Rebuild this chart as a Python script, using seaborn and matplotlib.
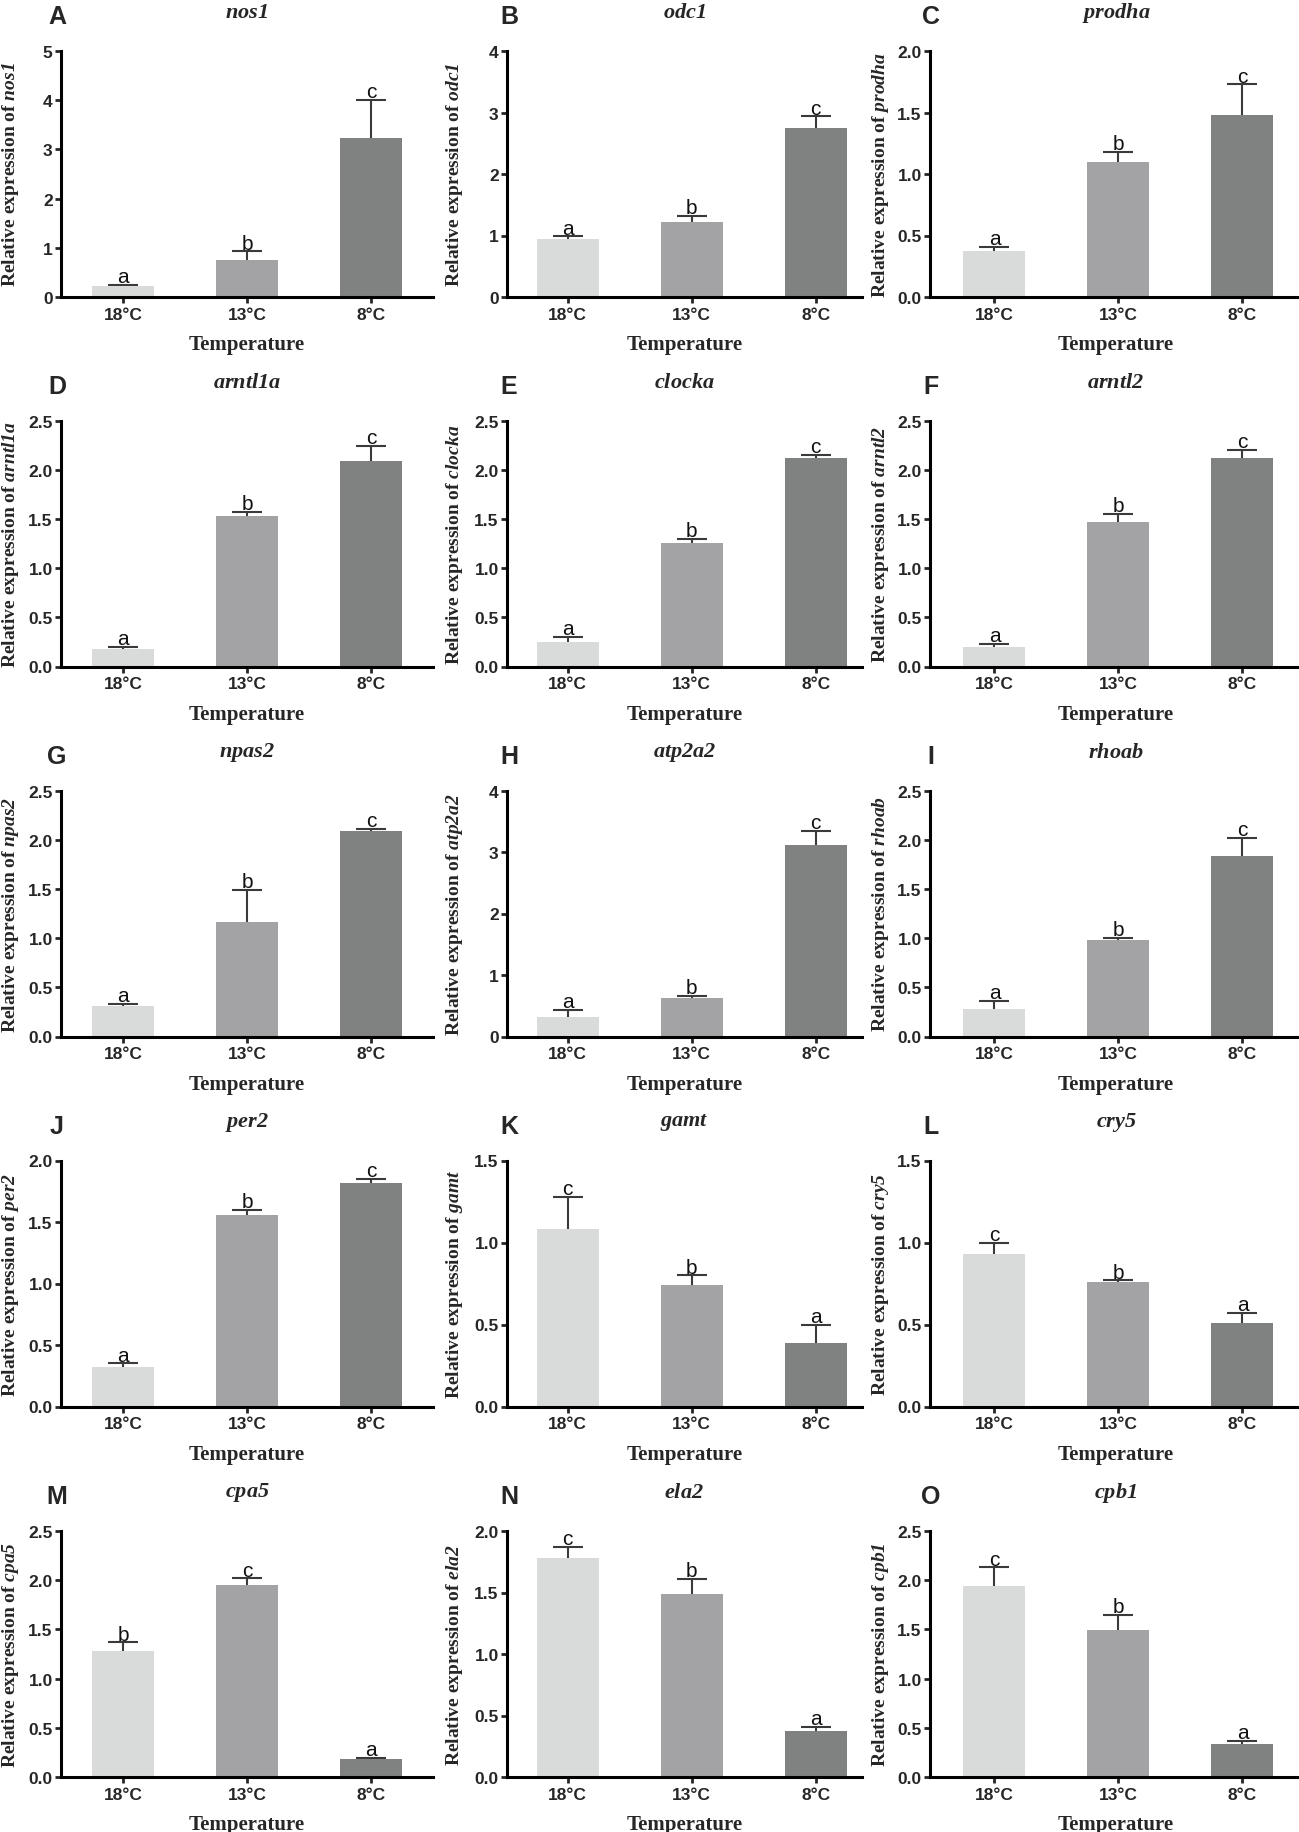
import numpy as np
import pandas as pd
import matplotlib
matplotlib.use("Agg")
import matplotlib.pyplot as plt
import seaborn as sns

# categories and panel labels
temps = ["18°C", "13°C", "8°C"]
panel_ids = list("ABCDEFGHIJKLMNO")
genes = ["nos1", "odc1", "prodha", "arntl1a", "clocka", "arntl2",
         "npas2", "atp2a2", "rhoab", "per2", "gamt", "cry5",
         "cpa5", "ela2", "cpb1"]

# mean relative expression (18, 13, 8 °C)
means = [
    [0.22, 0.76, 3.23],
    [0.94, 1.22, 2.75],
    [0.37, 1.10, 1.48],
    [0.18, 1.53, 2.09],
    [0.25, 1.26, 2.12],
    [0.20, 1.47, 2.12],
    [0.31, 1.16, 2.09],
    [0.31, 0.63, 3.11],
    [0.28, 0.98, 1.83],
    [0.32, 1.56, 1.82],
    [1.08, 0.74, 0.39],
    [0.93, 0.76, 0.51],
    [1.28, 1.95, 0.18],
    [1.78, 1.49, 0.37],
    [1.94, 1.49, 0.34],
]

# upper error (SD)
errs = [
    [0.03, 0.17, 0.78],
    [0.05, 0.10, 0.19],
    [0.04, 0.08, 0.25],
    [0.02, 0.04, 0.15],
    [0.05, 0.04, 0.03],
    [0.03, 0.08, 0.08],
    [0.02, 0.33, 0.02],
    [0.12, 0.03, 0.23],
    [0.08, 0.02, 0.19],
    [0.03, 0.04, 0.03],
    [0.20, 0.06, 0.11],
    [0.07, 0.01, 0.06],
    [0.09, 0.07, 0.015],
    [0.09, 0.12, 0.04],
    [0.19, 0.16, 0.03],
]

# significance letters
sig = [
    ["a", "b", "c"], ["a", "b", "c"], ["a", "b", "c"],
    ["a", "b", "c"], ["a", "b", "c"], ["a", "b", "c"],
    ["a", "b", "c"], ["a", "b", "c"], ["a", "b", "c"],
    ["a", "b", "c"], ["c", "b", "a"], ["c", "b", "a"],
    ["b", "c", "a"], ["c", "b", "a"], ["c", "b", "a"],
]

# y axis range and tick step
ymax = [5, 4, 2.0, 2.5, 2.5, 2.5, 2.5, 4, 2.5, 2.0, 1.5, 1.5, 2.5, 2.0, 2.5]
ystep = [1, 1, 0.5, 0.5, 0.5, 0.5, 0.5, 1, 0.5, 0.5, 0.5, 0.5, 0.5, 0.5, 0.5]

bar_colors = ["#d9dbda", "#a3a3a7", "#808281"]

sns.set_style("ticks")
plt.rcParams["font.family"] = ["Liberation Sans", "DejaVu Sans"]
plt.rcParams["mathtext.fontset"] = "custom"
plt.rcParams["mathtext.rm"] = "Liberation Serif"
plt.rcParams["mathtext.it"] = "Liberation Serif:italic"
plt.rcParams["mathtext.bf"] = "Liberation Serif:bold"
plt.rcParams["mathtext.bfit"] = "Liberation Serif:italic:bold"

W, H = 1299, 1833
fig = plt.figure(figsize=(W / 100, H / 100), dpi=100)

# layout in pixels
row_top = [52, 421.5, 791.5, 1161.5, 1532]
ax_h = 246
px_unit = 124
col_left = [61, 507, 930]
col_xlo = [-0.5, -0.49, -0.52]
col_xhi = [2.5, 2.37, 2.48]
letter_x = [57, 509, 931]
ylabel_x = [21, 465, 891]

for i, gene in enumerate(genes):
    r, c = divmod(i, 3)
    left, xlo, xhi = col_left[c], col_xlo[c], col_xhi[c]
    width = (xhi - xlo) * px_unit
    top = row_top[r]
    ax = fig.add_axes([left / W, 1 - (top + ax_h) / H, width / W, ax_h / H])

    df = pd.DataFrame({"Temperature": temps, "value": means[i]})
    sns.barplot(data=df, x="Temperature", y="value", hue="Temperature",
                palette=bar_colors, legend=False, width=0.5, errorbar=None,
                linewidth=0, ax=ax, zorder=2)
    xs = np.arange(len(temps))
    # error bars sit behind the bars so only the upper half shows
    ax.errorbar(xs, means[i], yerr=[errs[i], errs[i]], fmt="none",
                ecolor="#3a3a3a", elinewidth=1.5, capsize=10.5, capthick=1.5,
                zorder=1)
    for x, m, e, s in zip(xs, means[i], errs[i], sig[i]):
        ax.annotate(s, (x, m + e), xytext=(0, -1), textcoords="offset points",
                    ha="center", va="bottom", fontsize=15, color="#111111")

    ax.set_xlim(xlo, xhi)
    ax.set_ylim(0, ymax[i])
    ticks = np.arange(0, ymax[i] + 1e-9, ystep[i])
    ax.set_yticks(ticks)
    if ystep[i] >= 1:
        ax.set_yticklabels([f"{t:.0f}" for t in ticks])
    else:
        ax.set_yticklabels([f"{t:.1f}" for t in ticks])

    sns.despine(ax=ax)
    for sp in ["left", "bottom"]:
        ax.spines[sp].set_linewidth(2.2)
        ax.spines[sp].set_color("black")
        ax.spines[sp].set_zorder(3)
    ax.tick_params(axis="y", direction="out", length=4, width=2,
                   labelsize=12.5, pad=2)
    ax.tick_params(axis="x", direction="inout", length=8, width=2,
                   labelsize=12.5, pad=3)
    for lab in ax.get_xticklabels() + ax.get_yticklabels():
        lab.set_fontweight("bold")

    ax.set_xlabel("Temperature", family="Liberation Serif", fontweight="bold",
                  fontsize=15, labelpad=9)
    ax.set_ylabel(f"Relative expression of $\\mathbfit{{{gene}}}$",
                  family="Liberation Serif", fontweight="bold", fontsize=14)
    ax.yaxis.set_label_coords((ylabel_x[c] - left) / width, 0.5)

    fig.text((left + width / 2) / W, 1 - (top - 39) / H,
             f"$\\mathbfit{{{gene}}}$", ha="center", va="center", fontsize=16)
    fig.text(letter_x[c] / W, 1 - (top - 35) / H, panel_ids[i],
             ha="center", va="center", fontsize=18, fontweight="bold")

fig.savefig("out.png", dpi=100)
